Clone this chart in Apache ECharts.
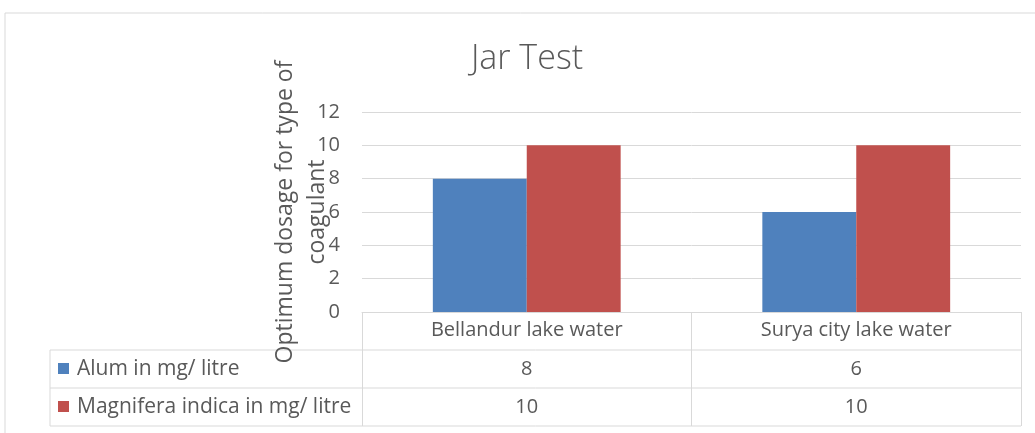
<!DOCTYPE html>
<html>
<head>
<meta charset="utf-8">
<script src="https://cdn.jsdelivr.net/npm/echarts@6/dist/echarts.min.js"></script>
<style>
  html, body { margin: 0; padding: 0; background: #fff; }
  #grafica { width: 1035px; height: 433px; }
</style>
</head>
<body>
<div id="grafica"></div>
<script>
// datos de la grafica
var categorias = ['Bellandur lake water', 'Surya city lake water'];
var nombresSeries = ['Alum in mg/ litre', 'Magnifera indica in mg/ litre'];
var alum = [8, 6];
var magnifera = [10, 10];
var colores = ['#4f81bd', '#c0504d'];
var marcasEje = [0, 2, 4, 6, 8, 10, 12];

var fuente = "'Open Sans', 'Noto Sans', sans-serif";
var gris = '#595959';
var linea = '#d9d9d9';

// medidas de la tabla bajo el eje
var gridLeft = 362, gridRight = 14, gridTop = 112, gridBottom = 121;
var tablaLeft = 50, altoFila = 38, altoCabecera = 38;

var myChart = echarts.init(document.getElementById('grafica'));

var option = {
    animation: false,
    color: colores,
    title: {
        text: 'Jar Test',
        left: 522,
        top: 37,
        textAlign: 'center',
        textStyle: { fontFamily: fuente, fontSize: 34, fontWeight: 300, color: gris }
    },
    grid: { left: gridLeft, right: gridRight, top: gridTop, bottom: gridBottom },
    xAxis: {
        type: 'category',
        data: categorias,
        axisLine: { show: true, lineStyle: { color: linea, width: 1 } },
        axisTick: { show: true, interval: 0, length: altoCabecera + altoFila * 2, lineStyle: { color: linea } },
        axisLabel: { margin: 8, fontFamily: fuente, fontSize: 20, color: gris }
    },
    yAxis: {
        type: 'value',
        min: marcasEje[0],
        max: marcasEje[marcasEje.length - 1],
        interval: 2,
        name: 'Optimum dosage for type of\ncoagulant',
        nameLocation: 'middle',
        nameRotate: 90,
        nameGap: 29,
        nameMoveOverlap: false,
        nameTextStyle: { fontFamily: fuente, fontSize: 23, color: gris, lineHeight: 32 },
        axisLine: { show: false },
        axisTick: { show: false },
        axisLabel: { margin: 22, fontFamily: fuente, fontSize: 20, color: gris },
        splitLine: { lineStyle: { color: linea, width: 1 } }
    },
    series: [
        { name: nombresSeries[0], type: 'bar', data: alum, barGap: 0, barCategoryGap: '43%' },
        { name: nombresSeries[1], type: 'bar', data: magnifera, barGap: 0, barCategoryGap: '43%' }
    ]
};
myChart.setOption(option);

// tabla de datos construida con graphic
function armarTabla() {
    var ancho = myChart.getWidth();
    var derecha = ancho - gridRight;
    var y0 = myChart.getHeight() - gridBottom + altoCabecera;
    var filas = [alum, magnifera];
    var elementos = [];

    elementos.push({
        type: 'rect', z: 0, silent: true,
        shape: { x: 5, y: 13, width: ancho + 10, height: 440 },
        style: { fill: 'none', stroke: linea, lineWidth: 1 }
    });

    for (var i = 0; i <= filas.length; i++) {
        var yy = y0 + i * altoFila;
        elementos.push({
            type: 'line', silent: true,
            shape: { x1: tablaLeft, y1: yy, x2: derecha, y2: yy },
            style: { stroke: linea, lineWidth: 1 }
        });
    }
    elementos.push({
        type: 'line', silent: true,
        shape: { x1: tablaLeft, y1: y0, x2: tablaLeft, y2: y0 + filas.length * altoFila },
        style: { stroke: linea, lineWidth: 1 }
    });

    filas.forEach(function (fila, r) {
        var yc = y0 + r * altoFila + altoFila / 2;
        elementos.push({
            type: 'rect', silent: true,
            shape: { x: tablaLeft + 8, y: yc - 6, width: 11, height: 11 },
            style: { fill: colores[r] }
        });
        elementos.push({
            type: 'text', silent: true,
            x: tablaLeft + 27, y: yc,
            style: { text: nombresSeries[r], font: '21px ' + fuente, fill: gris, verticalAlign: 'middle' }
        });
        fila.forEach(function (v, c) {
            var xc = myChart.convertToPixel({ xAxisIndex: 0 }, categorias[c]);
            elementos.push({
                type: 'text', silent: true,
                x: xc, y: yc,
                style: { text: String(v), font: '20px ' + fuente, fill: gris, align: 'center', verticalAlign: 'middle' }
            });
        });
    });

    myChart.setOption({ graphic: elementos });
}
armarTabla();
</script>
</body>
</html>
